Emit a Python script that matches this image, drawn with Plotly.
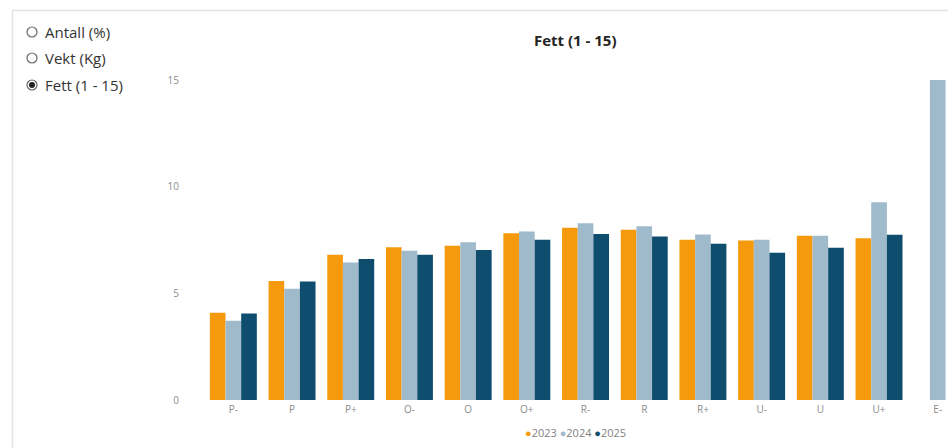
import plotly.graph_objects as go

categories = ["P-", "P", "P+", "O-", "O", "O+", "R-", "R", "R+", "U-", "U", "U+", "E-"]
years = ["2023", "2024", "2025"]
v2023 = [4.09, 5.58, 6.81, 7.16, 7.23, 7.82, 8.08, 7.98, 7.51, 7.48, 7.70, 7.58, None]
v2024 = [3.72, 5.22, 6.45, 7.00, 7.40, 7.90, 8.28, 8.14, 7.76, 7.51, 7.70, 9.27, 15.0]
v2025 = [4.05, 5.55, 6.61, 6.81, 7.03, 7.51, 7.78, 7.66, 7.33, 6.90, 7.14, 7.75, None]
colors = ["#F59A0C", "#9FBACB", "#0E4D6E"]
yticks = [0, 5, 10, 15]
radio_labels = ["Antall (%)", "Vekt (Kg)", "Fett (1 - 15)"]
title_text = "Fett (1 - 15)"

W, H = 948, 448
L, R, T, B = 204, 0, 80, 48
pw, ph = W - L - R, H - T - B

def px(x):
    return (x - L) / pw

def py(y):
    return 1 - (y - T) / ph

fig = go.Figure()
for name, vals, col in zip(years, [v2023, v2024, v2025], colors):
    fig.add_trace(go.Bar(x=categories, y=vals, name=name, marker_color=col,
                         marker_line_width=0, showlegend=False))

font_fam = "Open Sans, Noto Sans, sans-serif"

fig.update_layout(
    width=W, height=H,
    margin=dict(l=L, r=R, t=T, b=B, pad=0),
    paper_bgcolor="white", plot_bgcolor="white",
    barmode="group", bargap=0.2, bargroupgap=0,
    font=dict(family=font_fam),
    xaxis=dict(range=[-0.5, 12.175], showgrid=False, zeroline=False, showline=False,
               ticks="", tickfont=dict(size=10, color="#8c8c8c"), ticklabelstandoff=2),
    yaxis=dict(range=[0, 15], tickvals=yticks, showgrid=False, zeroline=False,
               showline=False, ticks="", tickfont=dict(size=10, color="#8c8c8c"),
               ticklabelstandoff=24),
)

annotations = []
annotations.append(dict(text="<b>" + title_text + "</b>", x=px(575), y=py(40),
                        xref="paper", yref="paper", showarrow=False,
                        xanchor="center", yanchor="middle",
                        font=dict(size=15, color="#252423", family=font_fam)))

legend_html = " ".join(
    f"<span style='color:{c}'>●</span>{y}" for y, c in zip(years, colors))
annotations.append(dict(text=legend_html, x=px(575), y=py(432), xref="paper", yref="paper",
                        showarrow=False, xanchor="center", yanchor="middle",
                        font=dict(size=11, color="#7f7f7f", family=font_fam)))

shapes = []
radio_y = [32, 58, 85]
for i, (lab, yy) in enumerate(zip(radio_labels, radio_y)):
    annotations.append(dict(text=lab, x=px(43), y=py(yy), xref="paper", yref="paper",
                            showarrow=False, xanchor="left", yanchor="middle",
                            font=dict(size=15, color="#333333", family=font_fam)))
    shapes.append(dict(type="circle", xref="paper", yref="paper",
                       x0=px(27), x1=px(37), y0=py(yy - 5), y1=py(yy + 5),
                       line=dict(color="#666666", width=1.2),
                       fillcolor="white"))
    if i == 2:
        shapes.append(dict(type="circle", xref="paper", yref="paper",
                           x0=px(29), x1=px(35), y0=py(yy - 3), y1=py(yy + 3),
                           line=dict(width=0), fillcolor="#222222"))

# card border (top and left)
shapes.append(dict(type="line", xref="paper", yref="paper",
                   x0=px(12), x1=px(948), y0=py(10.5), y1=py(10.5),
                   line=dict(color="#e3e3e3", width=1.5)))
shapes.append(dict(type="line", xref="paper", yref="paper",
                   x0=px(12.5), x1=px(12.5), y0=py(10), y1=py(448),
                   line=dict(color="#e3e3e3", width=1.5)))

fig.update_layout(annotations=annotations, shapes=shapes)
fig.write_html("out.html")
